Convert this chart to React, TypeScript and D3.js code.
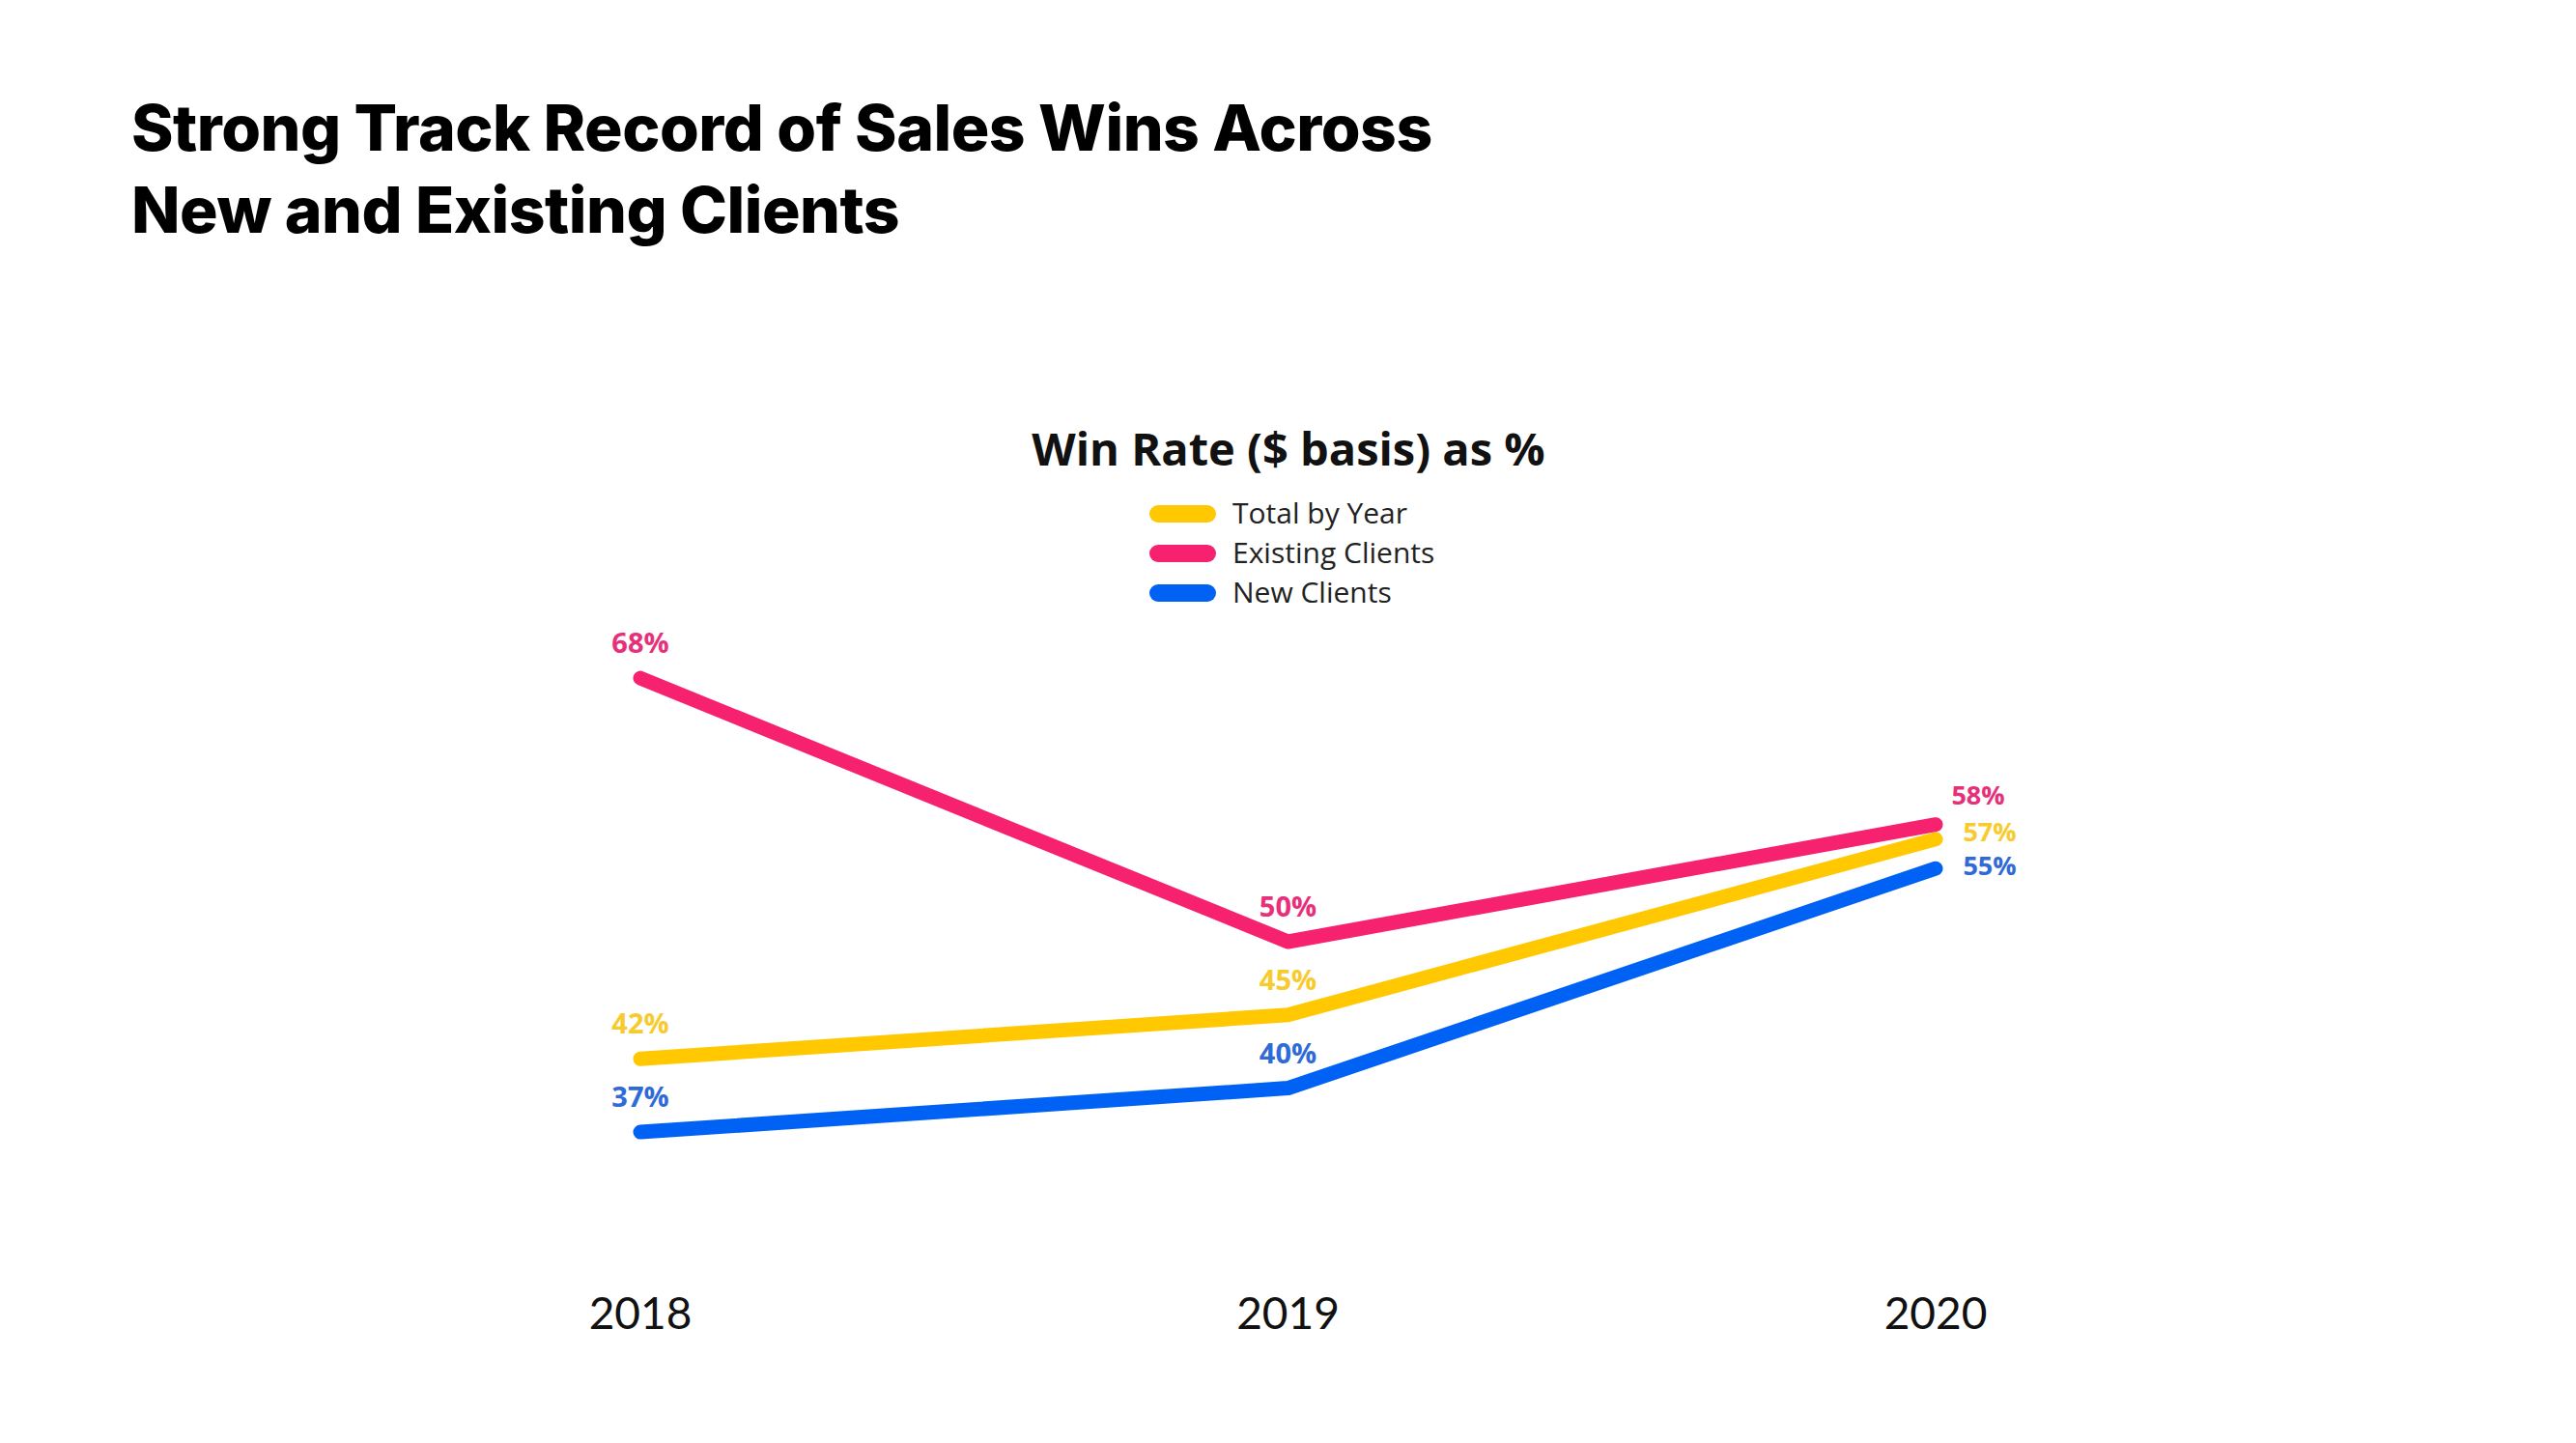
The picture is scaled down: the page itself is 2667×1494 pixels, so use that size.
import React from "react";
import * as d3 from "d3";

const years = ["2018", "2019", "2020"];
const totalByYear = [42, 45, 57];
const existingClients = [68, 50, 58];
const newClients = [37, 40, 55];
const seriesNames = ["Total by Year", "Existing Clients", "New Clients"];
const seriesColors = ["#FFC800", "#F6216F", "#0062F5"];
const labelColors = ["#F7CB2E", "#E6307A", "#2F6AD6"];

const W = 2667;
const H = 1494;

const series = [
  { name: seriesNames[0], values: totalByYear, color: seriesColors[0], label: labelColors[0] },
  { name: seriesNames[1], values: existingClients, color: seriesColors[1], label: labelColors[1] },
  { name: seriesNames[2], values: newClients, color: seriesColors[2], label: labelColors[2] },
];

// label offsets for the final point (placed to the right)
const lastLabelDx = [56, 44, 56];
const lastLabelDy = [-8, -31, -3];

export default function App() {
  const x = d3.scalePoint<string>().domain(years).range([663, 2004]);
  const y = d3.scaleLinear().domain([0, 100]).range([1733, 217]);
  const line = d3
    .line<number>()
    .x((_, i) => x(years[i]) as number)
    .y((d) => y(d));

  const font = "'Open Sans', Lato, sans-serif";

  return (
    <svg
      width={W}
      height={H}
      style={{ position: "absolute", left: 0, top: 0, background: "#fff" }}
      fontFamily={font}
    >
      <rect width={W} height={H} fill="#fff" />
      <text x={136} y={156} fontSize={66} fontWeight={800} fill="#000" fontFamily="Inter, Lato, sans-serif" letterSpacing={-0.5}>
        Strong Track Record of Sales Wins Across
      </text>
      <text x={136} y={241} fontSize={66} fontWeight={800} fill="#000" fontFamily="Inter, Lato, sans-serif" letterSpacing={-0.5}>
        New and Existing Clients
      </text>

      <text x={1334} y={482} fontSize={47} fontWeight={700} fill="#111" textAnchor="middle">
        Win Rate ($ basis) as %
      </text>

      {series.map((s, i) => (
        <g key={s.name} transform={`translate(0, ${532 + i * 41})`}>
          <rect x={1190} y={-9} width={69} height={18} rx={9} fill={s.color} />
          <text x={1276} y={10} fontSize={30} fill="#222">
            {s.name}
          </text>
        </g>
      ))}

      {series.map((s) => (
        <path
          key={s.name + "line"}
          d={line(s.values) || ""}
          fill="none"
          stroke={s.color}
          strokeWidth={15}
          strokeLinecap="round"
          strokeLinejoin="round"
        />
      ))}

      {series.map((s, si) =>
        s.values.map((v, i) => {
          const last = i === years.length - 1;
          const px = x(years[i]) as number;
          const py = y(v);
          return (
            <text
              key={s.name + i}
              x={last ? px + lastLabelDx[si] : px}
              y={last ? py + 10 + lastLabelDy[si] : py - 26}
              fontSize={last ? 27 : 29}
              fontWeight={700}
              fill={s.label}
              textAnchor="middle"
            >
              {v}%
            </text>
          );
        })
      )}

      {years.map((yr) => (
        <text key={yr} x={x(yr) as number} y={1376} fontSize={46} textAnchor="middle" fill="#111" fontFamily="Lato, sans-serif">
          {yr}
        </text>
      ))}
    </svg>
  );
}
